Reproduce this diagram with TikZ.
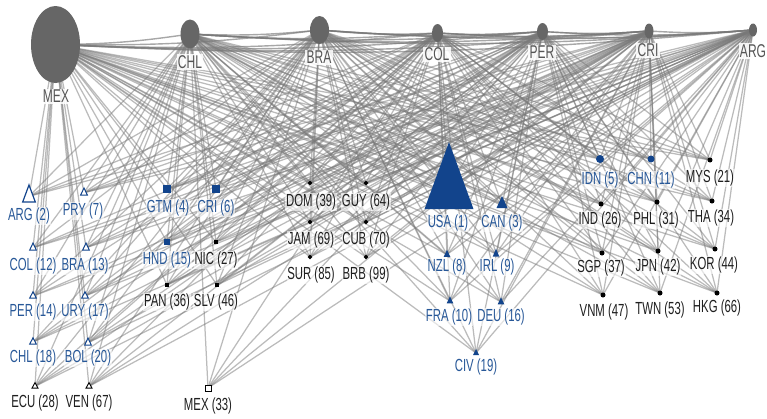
\documentclass[tikz,border=0pt]{standalone}
\usepackage{fontspec}
\setmainfont{Liberation Sans}[FakeStretch=0.65]
\usetikzlibrary{shapes.geometric}
\pgfdeclarelayer{edges}
\pgfsetlayers{edges,main}
\definecolor{navy}{RGB}{18,68,140}
\definecolor{navytext}{RGB}{40,88,152}
\definecolor{hubgray}{RGB}{102,102,102}
\definecolor{hubtext}{RGB}{85,85,85}
\definecolor{link}{RGB}{120,120,120}

\tikzset{
  edge/.style={draw=link, line width=1.25pt, opacity=0.5},
  hubedge/.style={draw=link, line width=1.4pt, opacity=0.65, bend right=4},
  hub/.style={ellipse, fill=hubgray, inner sep=0pt},
  lab/.style={fill=white, fill opacity=0.6, text opacity=1, inner sep=0.8pt,
    font=\fontsize{17.5}{17.5}\selectfont},
  hublab/.style={lab, fill opacity=0.85, text=hubtext, inner sep=1.2pt,
    font=\fontsize{18.5}{18.5}\selectfont},
  bluelab/.style={lab, text=navytext},
  blacklab/.style={lab, text=black!88},
  otri/.style={fill=white, draw=navy, line width=1pt},
  otrik/.style={fill=white, draw=black, line width=0.9pt},
  ftri/.style={fill=navy},
  sqb/.style={rectangle, fill=navy, inner sep=0pt, minimum size=#1},
  sqk/.style={rectangle, fill=black, inner sep=0pt, minimum size=#1},
  sqo/.style={rectangle, fill=white, draw=black, line width=0.9pt, inner sep=0pt, minimum size=#1},
  dmd/.style={diamond, fill=black, inner sep=0pt, minimum size=5pt},
  dotb/.style={circle, fill=navy, inner sep=0pt, minimum size=#1},
  dotk/.style={circle, fill=black, inner sep=0pt, minimum size=#1},
  pics/tri/.style args={#1/#2}{code={
    \path[pic actions] (-#1,#2*0.3333) -- (#1,#2*0.3333) -- (0,-#2*0.6667) -- cycle;}},
}

\begin{document}
\begin{tikzpicture}[x=1pt, y=-1pt]
\useasboundingbox (0,0) rectangle (767,418);

% origin countries along the top
\node[hub, minimum width=49pt, minimum height=77pt] (o-MEX) at (55.5,44.5) {};
\node[hub, minimum width=19pt, minimum height=29pt] (o-CHL) at (190,34) {};
\node[hub, minimum width=19pt, minimum height=28pt] (o-BRA) at (319.5,30) {};
\node[hub, minimum width=11pt, minimum height=18pt] (o-COL) at (437.5,33) {};
\node[hub, minimum width=11pt, minimum height=17pt] (o-PER) at (542.5,31.5) {};
\node[hub, minimum width=9pt, minimum height=15pt] (o-CRI) at (649,31) {};
\node[hub, minimum width=8pt, minimum height=13pt] (o-ARG) at (753,30) {};

\node[hublab] (ol-MEX) at (56,96.5) {MEX};
\node[hublab] (ol-CHL) at (190,62) {CHL};
\node[hublab] (ol-BRA) at (319,57.5) {BRA};
\node[hublab] (ol-COL) at (437,54.5) {COL};
\node[hublab] (ol-PER) at (542,52.5) {PER};
\node[hublab] (ol-CRI) at (648,50.5) {CRI};
\node[hublab] (ol-ARG) at (753,51) {ARG};

% Latin American destinations (open triangles)
\coordinate (d-ARG) at (29,196.3);
\coordinate (d-PRY) at (84,192.7);
\coordinate (d-COL) at (33,247.7);
\coordinate (d-BRA) at (86,247.7);
\coordinate (d-PER) at (33,296);
\coordinate (d-URY) at (85,296);
\coordinate (d-CHL) at (33,342);
\coordinate (d-BOL) at (88,342.7);
\coordinate (d-ECU) at (35,386.3);
\coordinate (d-VEN) at (89,386.3);
\pic[otri, line width=1.2pt] at (d-ARG) {tri=6.3/17};
\pic[otri] at (d-PRY) {tri=3.4/7};
\pic[otri] at (d-COL) {tri=3.3/7};
\pic[otri] at (d-BRA) {tri=3.3/7};
\pic[otri] at (d-PER) {tri=3.3/6.5};
\pic[otri] at (d-URY) {tri=3.3/6.5};
\pic[otri] at (d-CHL) {tri=3.3/6.5};
\pic[otri] at (d-BOL) {tri=3.3/7};
\pic[otrik] at (d-ECU) {tri=3/5.5};
\pic[otrik] at (d-VEN) {tri=3/5.5};
\node[bluelab] (l-ARG) at (29,216) {ARG (2)};
\node[bluelab] (l-PRY) at (83,211) {PRY (7)};
\node[bluelab] (l-COL) at (33,266) {COL (12)};
\node[bluelab] (l-BRA) at (85,266) {BRA (13)};
\node[bluelab] (l-PER) at (33,312) {PER (14)};
\node[bluelab] (l-URY) at (85,312) {URY (17)};
\node[bluelab] (l-CHL) at (33,358) {CHL (18)};
\node[bluelab] (l-BOL) at (88,358) {BOL (20)};
\node[blacklab] (l-ECU) at (35,403) {ECU (28)};
\node[blacklab] (l-VEN) at (89,403) {VEN (67)};

% Central America (squares)
\node[sqb=7.5pt] (d-GTM) at (167,189) {};
\node[sqb=7.5pt] (d-CRI) at (216,189) {};
\node[sqb=5.5pt] (d-HND) at (167,242) {};
\node[sqk=4pt] (d-NIC) at (216,242) {};
\node[sqk=4pt] (d-PAN) at (167,285) {};
\node[sqk=4pt] (d-SLV) at (217,285) {};
\node[sqo=6pt] (d-MEX) at (208,388) {};
\node[bluelab] (l-GTM) at (168,208) {GTM (4)};
\node[bluelab] (l-CRI) at (216,208) {CRI (6)};
\node[bluelab] (l-HND) at (167,260) {HND (15)};
\node[blacklab] (l-NIC) at (216,260) {NIC (27)};
\node[blacklab] (l-PAN) at (167,302) {PAN (36)};
\node[blacklab] (l-SLV) at (216,302) {SLV (46)};
\node[blacklab] (l-MEX) at (208,406) {MEX (33)};

% Caribbean (diamonds)
\node[dmd] (d-DOM) at (310,183) {};
\node[dmd] (d-GUY) at (366,183) {};
\node[dmd] (d-JAM) at (310,222) {};
\node[dmd] (d-CUB) at (366,222) {};
\node[dmd] (d-SUR) at (310,257) {};
\node[dmd] (d-BRB) at (366,257) {};
\node[blacklab] (l-DOM) at (311,202) {DOM (39)};
\node[blacklab] (l-GUY) at (366,202) {GUY (64)};
\node[blacklab] (l-JAM) at (311,240) {JAM (69)};
\node[blacklab] (l-CUB) at (366,240) {CUB (70)};
\node[blacklab] (l-SUR) at (311,275) {SUR (85)};
\node[blacklab] (l-BRB) at (366,275) {BRB (99)};

% North America, Europe, Oceania, Africa (filled triangles)
\coordinate (d-USA) at (449,186.7);
\coordinate (d-CAN) at (502,204);
\coordinate (d-NZL) at (447,254.5);
\coordinate (d-IRL) at (496,254);
\coordinate (d-FRA) at (450,301);
\coordinate (d-DEU) at (501,302);
\coordinate (d-CIV) at (476,353);
\pic[ftri] at (d-USA) {tri=24.5/67};
\pic[ftri] at (d-CAN) {tri=5.5/12};
\pic[ftri] at (d-NZL) {tri=3.3/7};
\pic[ftri] at (d-IRL) {tri=3.3/8};
\pic[ftri] at (d-FRA) {tri=3.3/7};
\pic[ftri] at (d-DEU) {tri=3.3/7};
\pic[ftri] at (d-CIV) {tri=3/6};
\node[bluelab] (l-USA) at (448,223) {USA (1)};
\node[bluelab] (l-CAN) at (502,223) {CAN (3)};
\node[bluelab] (l-NZL) at (447,267) {NZL (8)};
\node[bluelab] (l-IRL) at (497,267) {IRL (9)};
\node[bluelab] (l-FRA) at (449,317) {FRA (10)};
\node[bluelab] (l-DEU) at (501,317) {DEU (16)};
\node[bluelab] (l-CIV) at (476,367) {CIV (19)};

% Asia (dots)
\node[dotb=8pt] (d-IDN) at (600,159) {};
\node[dotb=7pt] (d-CHN) at (651,159) {};
\node[dotk=5pt] (d-MYS) at (710,160) {};
\node[dotk=5pt] (d-IND) at (601,204) {};
\node[dotk=5pt] (d-PHL) at (657,202) {};
\node[dotk=5pt] (d-THA) at (712,201) {};
\node[dotk=5pt] (d-SGP) at (602,253) {};
\node[dotk=5pt] (d-JPN) at (658,251) {};
\node[dotk=5pt] (d-KOR) at (715,249) {};
\node[dotk=5pt] (d-VNM) at (603,295) {};
\node[dotk=5pt] (d-TWN) at (660,293) {};
\node[dotk=5pt] (d-HKG) at (717,293) {};
\node[bluelab] (l-IDN) at (600,180) {IDN (5)};
\node[bluelab] (l-CHN) at (651,180) {CHN (11)};
\node[blacklab] (l-MYS) at (710,178) {MYS (21)};
\node[blacklab] (l-IND) at (600,220) {IND (26)};
\node[blacklab] (l-PHL) at (656,220) {PHL (31)};
\node[blacklab] (l-THA) at (711,218) {THA (34)};
\node[blacklab] (l-SGP) at (601,268) {SGP (37)};
\node[blacklab] (l-JPN) at (658,267) {JPN (42)};
\node[blacklab] (l-KOR) at (714,265) {KOR (44)};
\node[blacklab] (l-VNM) at (604,312) {VNM (47)};
\node[blacklab] (l-TWN) at (660,310) {TWN (53)};
\node[blacklab] (l-HKG) at (717,308) {HKG (66)};

% flows: each origin to every other destination, and among the origins
\begin{pgfonlayer}{edges}
\foreach \src in {MEX,CHL,BRA,COL,PER,CRI,ARG}{
  \foreach \dst in {ARG,PRY,COL,BRA,PER,URY,CHL,BOL,ECU,VEN,GTM,CRI,HND,NIC,PAN,SLV,MEX,DOM,GUY,JAM,CUB,SUR,BRB,USA,CAN,NZL,IRL,FRA,DEU,CIV,IDN,CHN,MYS,IND,PHL,THA,SGP,JPN,KOR,VNM,TWN,HKG}{
    \ifx\src\dst\else\draw[edge] (o-\src.center) -- (d-\dst.center);\fi
  }
}
\foreach \a [count=\i] in {MEX,CHL,BRA,COL,PER,CRI,ARG}{
  \foreach \b [count=\j] in {MEX,CHL,BRA,COL,PER,CRI,ARG}{
    \ifnum\j>\i\relax \draw[hubedge] (o-\a.center) to (o-\b.center);\fi
  }
}
\end{pgfonlayer}
\end{tikzpicture}
\end{document}
